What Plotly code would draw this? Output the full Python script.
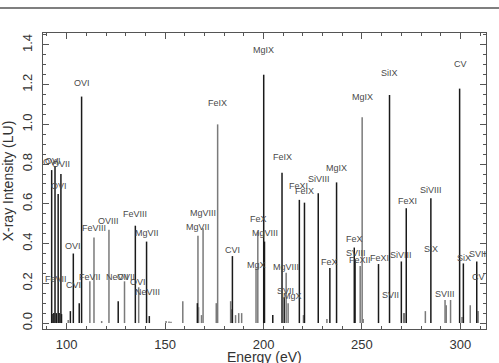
import plotly.graph_objects as go

# ---- stick lines (energy eV, intensity LU) ----
dark_energy = [92.4, 94.1, 95.7, 97.1, 92.6, 93.5, 94.8, 96.2, 97.4, 101.9, 103.4, 106.4, 107.6,
               126.2, 134.9, 140.6, 142.0, 166.4, 184.2, 200.1, 200.5, 204.7, 209.4, 210.5,
               218.2, 220.8, 227.8, 233.7, 237.1, 246.1, 246.5, 258.4, 264.0, 270.0, 272.5,
               285.0, 299.6, 301.5, 308.3]
dark_value = [0.77, 0.79, 0.65, 0.75, 0.045, 0.05, 0.05, 0.05, 0.045, 0.06, 0.35, 0.10, 1.14,
              0.11, 0.49, 0.41, 0.035, 0.10, 0.337, 1.25, 0.41, 0.04, 0.757, 0.13,
              0.62, 0.606, 0.653, 0.277, 0.708, 0.38, 0.32, 0.297, 1.148, 0.31, 0.578,
              0.628, 1.18, 0.30, 0.31]

gray_energy = [100.8, 111.8, 113.9, 117.8, 121.5, 129.4, 136.6, 150.5, 152.0, 153.0, 159.0,
               166.7, 167.0, 168.5, 169.3, 176.0, 176.7, 183.3, 183.6, 185.8, 187.4, 188.9,
               196.2, 197.1, 211.5, 212.5, 220.3, 232.2, 249.1, 250.1, 250.6, 271.2, 271.6,
               282.2, 292.2, 292.8, 295.0, 300.8, 305.0, 309.0]
gray_value = [0.015, 0.21, 0.43, 0.01, 0.47, 0.21, 0.18, 0.01, 0.008, 0.006, 0.11,
              0.44, 0.08, 0.04, 0.477, 0.10, 1.0, 0.11, 0.07, 0.04, 0.05, 0.05,
              0.275, 0.46, 0.253, 0.10, 0.04, 0.02, 0.287, 1.036, 0.02, 0.05, 0.05,
              0.06, 0.116, 0.09, 0.116, 0.03, 0.09, 0.06]

# ---- ion labels (name, energy, label height) ----
label_names = ["OVI", "OVI", "OVII", "OVI", "FeVII", "CVI", "OVI", "OVI", "FeVII", "FeVIII",
               "OVIII", "NeVII", "OVII", "FeVIII", "MgVII", "OVI", "NeVIII", "MgVIII", "MgVII",
               "FeIX", "CVI", "MgIX", "FeX", "MgVIII", "MgX", "FeIX", "MgVIII", "SVII", "MgX",
               "FeXI", "FeIX", "SiVIII", "MgIX", "FeX", "MgIX", "SiIX", "FeX", "SVIII", "FeXII",
               "FeXI", "SiVIII", "SVII", "FeXI", "SiVIII", "SiX", "CV", "SVIII", "SiX", "SVII", "CV"]
label_energy = [92.2, 93.2, 97.0, 96.2, 94.6, 103.7, 103.0, 107.6, 111.8, 114.1,
                121.5, 125.9, 129.9, 134.7, 140.6, 136.2, 141.1, 169.4, 166.8,
                176.7, 184.3, 200.0, 197.3, 200.8, 196.2, 209.7, 211.5, 211.0, 214.5,
                217.8, 220.9, 228.0, 237.1, 233.5, 250.1, 263.9, 246.4, 246.8, 248.9,
                258.7, 269.6, 264.4, 273.0, 285.0, 285.2, 299.8, 292.3, 302.0, 308.6, 309.0]
label_height = [0.81, 0.815, 0.80, 0.69, 0.22, 0.19, 0.39, 1.207, 0.233, 0.48,
                0.515, 0.233, 0.233, 0.549, 0.455, 0.208, 0.155, 0.552, 0.485,
                1.106, 0.368, 1.375, 0.522, 0.453, 0.294, 0.834, 0.283, 0.161, 0.136,
                0.69, 0.666, 0.725, 0.782, 0.306, 1.136, 1.257, 0.421, 0.354, 0.315,
                0.329, 0.342, 0.141, 0.614, 0.672, 0.373, 1.304, 0.145, 0.326, 0.348, 0.233]

x_ticks = [100, 150, 200, 250, 300]
y_ticks = [0.0, 0.2, 0.4, 0.6, 0.8, 1.0, 1.2, 1.4]

FONT = "Liberation Sans, Arial, sans-serif"


def sticks(energies, values):
    xs, ys = [], []
    for e, v in zip(energies, values):
        xs += [e, e, None]
        ys += [0, v, None]
    return xs, ys


fig = go.Figure()
gx, gy = sticks(gray_energy, gray_value)
dx, dy = sticks(dark_energy, dark_value)
fig.add_trace(go.Scatter(x=gx, y=gy, mode="lines", line=dict(color="#7a7a7a", width=1.5),
                         hoverinfo="skip", showlegend=False))
fig.add_trace(go.Scatter(x=dx, y=dy, mode="lines", line=dict(color="#1a1a1a", width=1.5),
                         hoverinfo="skip", showlegend=False))

for name, e, h in zip(label_names, label_energy, label_height):
    fig.add_annotation(x=e, y=h, text=name, showarrow=False, xanchor="center", yanchor="middle",
                       font=dict(family=FONT, size=9, color="#4a4a4a"))

axis_common = dict(showgrid=False, zeroline=False, showline=True, linecolor="#555555", linewidth=1,
                   mirror="ticks", ticks="inside", ticklen=6, tickcolor="#555555", tickwidth=1,
                   automargin=False,
                   tickfont=dict(family=FONT, size=13, color="#333333"))

fig.update_xaxes(range=[88, 313], tickvals=x_ticks, ticktext=[str(v) for v in x_ticks],
                 ticklabelstandoff=3,
                 minor=dict(dtick=10, tick0=0, ticks="inside", ticklen=3, tickcolor="#555555"),
                 **axis_common)
fig.update_yaxes(range=[-0.03, 1.46], tickvals=y_ticks, ticktext=[f"{v:.1f}" for v in y_ticks],
                 tickangle=-90, ticklabelstandoff=5,
                 minor=dict(dtick=0.05, tick0=0, ticks="inside", ticklen=3, tickcolor="#555555"),
                 title=dict(text="X-ray Intensity (LU)", standoff=2,
                            font=dict(family=FONT, size=14, color="#333333")),
                 **axis_common)

# x-axis title placed below tick labels (partly cut by the page edge, as in the original)
fig.add_annotation(xref="paper", yref="paper", x=0.5, y=-0.095, text="Energy (eV)",
                   showarrow=False, xanchor="center", yanchor="middle",
                   font=dict(family=FONT, size=14, color="#333333"))

fig.add_shape(type="line", xref="paper", yref="paper", x0=-0.1, x1=1.04, y0=1.0845, y1=1.0845,
              line=dict(color="#555555", width=1.5))

fig.update_layout(width=499, height=363, margin=dict(l=43, r=13, t=33, b=34),
                  plot_bgcolor="white", paper_bgcolor="white")

fig.write_html("out.html")
